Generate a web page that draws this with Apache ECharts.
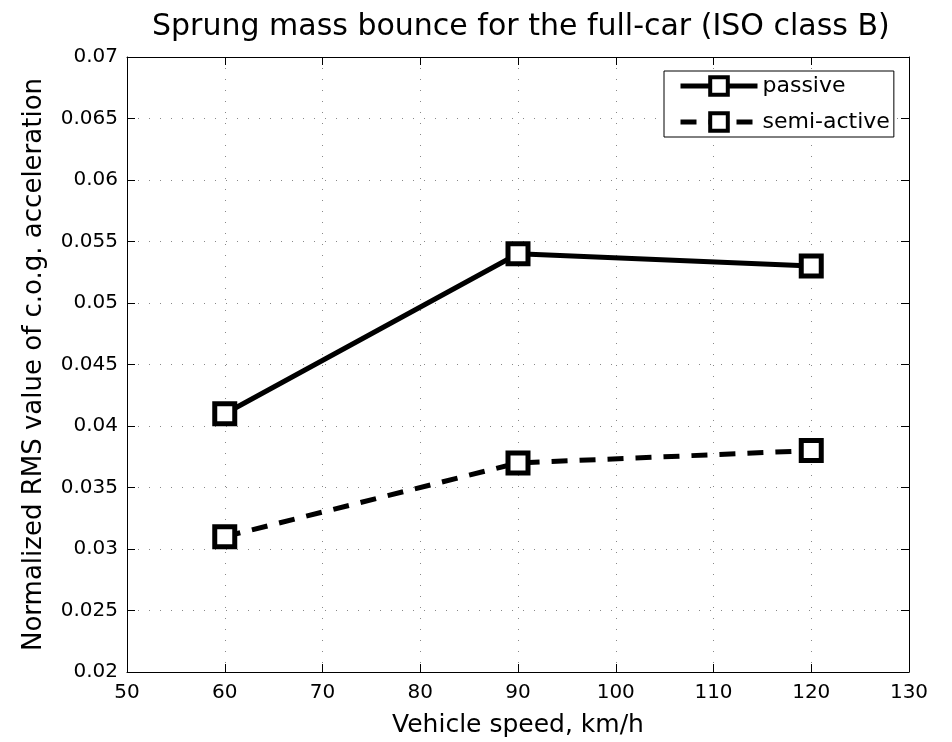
<!DOCTYPE html>
<html>
<head>
<meta charset="utf-8">
<script src="https://cdn.jsdelivr.net/npm/echarts@6/dist/echarts.min.js"></script>
<style>
  html, body { margin: 0; padding: 0; background: #fff; }
  #chartsDiv { width: 952px; height: 742px; }
</style>
</head>
<body>
<div id="chartsDiv"></div>
<script>
var speeds = [60, 90, 120];
var passive = [0.041, 0.054, 0.053];
var semiActive = [0.031, 0.037, 0.038];
var seriesNames = ['passive', 'semi-active'];

var FONT = '"DejaVu Sans", sans-serif';

var toPairs = function (xs, ys) {
  return xs.map(function (x, i) { return [x, ys[i]]; });
};

var chart = echarts.init(document.getElementById('chartsDiv'));

var markerStyle = {
  color: '#fff',
  borderColor: '#000',
  borderWidth: 5
};

var option = {
  backgroundColor: '#fff',
  animation: false,
  title: {
    text: 'Sprung mass bounce for the full-car (ISO class B)',
    left: 147,
    top: 7,
    textStyle: {
      fontFamily: FONT,
      fontSize: 30,
      fontWeight: 'normal',
      color: '#000'
    }
  },
  legend: {
    left: 664,
    top: 71,
    orient: 'vertical',
    itemWidth: 77,
    itemHeight: 22,
    itemGap: 14,
    padding: [4, 4, 4, 14],
    borderColor: '#000',
    borderWidth: 1,
    backgroundColor: '#fff',
    lineStyle: { width: 5 },
    itemStyle: { color: '#fff', borderColor: '#000', borderWidth: 4 },
    textStyle: {
      fontFamily: FONT,
      fontSize: 22,
      color: '#000'
    },
    data: seriesNames
  },
  grid: {
    left: 127,
    right: 43,
    top: 57,
    bottom: 70,
    outerBoundsMode: 'none'
  },
  xAxis: [{
    type: 'value',
    min: 50,
    max: 130,
    interval: 10,
    name: 'Vehicle speed, km/h',
    nameLocation: 'middle',
    nameGap: 41,
    nameTextStyle: { fontFamily: FONT, fontSize: 25, color: '#000' },
    axisLine: { lineStyle: { color: '#000', width: 1 } },
    axisTick: { inside: true, length: 8, lineStyle: { color: '#000' } },
    axisLabel: { fontFamily: FONT, fontSize: 20, color: '#000', margin: 11 },
    splitLine: { show: true, lineStyle: { color: '#888', type: [1, 10], width: 1 } }
  }, {
    type: 'value',
    position: 'top',
    min: 50,
    max: 130,
    interval: 10,
    axisLine: { lineStyle: { color: '#000', width: 1 } },
    axisTick: { inside: true, length: 8, lineStyle: { color: '#000' } },
    axisLabel: { show: false },
    splitLine: { show: false }
  }],
  yAxis: [{
    type: 'value',
    min: 0.02,
    max: 0.07,
    interval: 0.005,
    name: 'Normalized RMS value of c.o.g. acceleration',
    nameLocation: 'middle',
    nameGap: 80,
    nameTextStyle: { fontFamily: FONT, fontSize: 26, color: '#000' },
    axisLine: { show: true, lineStyle: { color: '#000', width: 1 } },
    axisTick: { show: true, inside: true, length: 8, lineStyle: { color: '#000' } },
    axisLabel: {
      fontFamily: FONT,
      fontSize: 20,
      color: '#000',
      margin: 9,
      formatter: function (v) { return String(parseFloat(v.toFixed(3))); }
    },
    splitLine: { show: true, lineStyle: { color: '#888', type: [1, 10], width: 1 } }
  }, {
    type: 'value',
    position: 'right',
    min: 0.02,
    max: 0.07,
    interval: 0.005,
    axisLine: { show: true, lineStyle: { color: '#000', width: 1 } },
    axisTick: { show: true, inside: true, length: 8, lineStyle: { color: '#000' } },
    axisLabel: { show: false },
    splitLine: { show: false }
  }],
  series: [{
    name: seriesNames[0],
    type: 'line',
    symbol: 'rect',
    symbolSize: 20,
    showAllSymbol: true,
    lineStyle: { color: '#000', width: 5, type: 'solid' },
    itemStyle: markerStyle,
    data: toPairs(speeds, passive)
  }, {
    name: seriesNames[1],
    type: 'line',
    symbol: 'rect',
    symbolSize: 20,
    showAllSymbol: true,
    lineStyle: { color: '#000', width: 5, type: [16, 12] },
    itemStyle: markerStyle,
    data: toPairs(speeds, semiActive)
  }]
};

chart.setOption(option);
</script>
</body>
</html>
